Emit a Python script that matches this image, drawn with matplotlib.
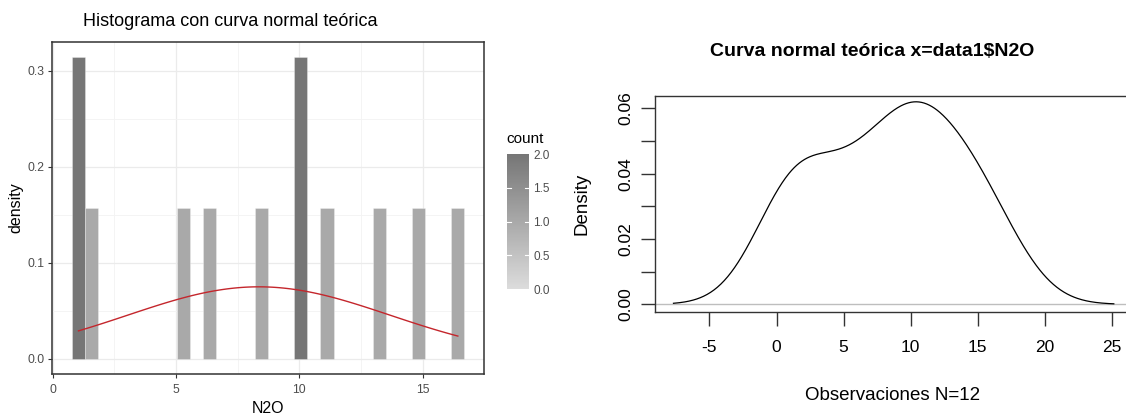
import numpy as np
import matplotlib
matplotlib.use("Agg")
import matplotlib.pyplot as plt
from matplotlib.colors import LinearSegmentedColormap, Normalize
from matplotlib.colorbar import ColorbarBase

plt.rcParams["font.family"] = ["Liberation Sans", "DejaVu Sans"]
plt.rcParams["axes.unicode_minus"] = False

# N2O observations (n = 12)
n2o = [1.05, 1.12, 1.63, 5.32, 6.38, 8.50, 10.20, 10.28, 11.30, 13.26, 14.84, 16.42]
n_bins = 30

hist_xticks = [0, 5, 10, 15]
hist_yticks = [0.0, 0.1, 0.2, 0.3]
count_ticks = [0.0, 0.5, 1.0, 1.5, 2.0]

kde_xticks = [-5, 0, 5, 10, 15, 20, 25]
kde_yticks = [0.00, 0.01, 0.02, 0.03, 0.04, 0.05, 0.06]
kde_ylabels = ["0.00", "", "0.02", "", "0.04", "", "0.06"]

x = np.asarray(n2o, dtype=float)
n = x.size

W, H = 1126, 417
fig = plt.figure(figsize=(W / 100, H / 100), dpi=100)


def px_axes(left, top, right, bottom):
    return fig.add_axes([left / W, 1 - bottom / H, (right - left) / W, (bottom - top) / H])


# ---------------- histogram with normal curve ----------------
ax1 = px_axes(52.3, 41.7, 484.0, 374.0)

width = (x.max() - x.min()) / (n_bins - 1)
edges = x.min() - width / 2 + width * np.arange(n_bins + 1)
counts, _ = np.histogram(x, bins=edges)
density = counts / (n * width)

cmap = LinearSegmentedColormap.from_list("count_grey", ["#DCDCDC", "#767676"])
norm = Normalize(vmin=0, vmax=counts.max())

mask = counts > 0
ax1.bar(edges[:-1][mask], density[mask], width=width, align="edge",
        color=cmap(norm(counts[mask])), edgecolor=(1, 1, 1, 0.35), linewidth=0.6, zorder=3)

mu, sd = x.mean(), x.std(ddof=1)
xs = np.linspace(x.min(), x.max(), 101)
ax1.plot(xs, np.exp(-0.5 * ((xs - mu) / sd) ** 2) / (sd * np.sqrt(2 * np.pi)),
         color="#C4262C", linewidth=1.0, zorder=4)

pad_x = 0.05 * (edges[-1] - edges[0])
ax1.set_xlim(edges[0] - pad_x, edges[-1] + pad_x)
ymax = density.max()
ax1.set_ylim(-0.05 * ymax, 1.05 * ymax)

ax1.set_xticks(hist_xticks)
ax1.set_xticks([2.5, 7.5, 12.5], minor=True)
ax1.set_yticks(hist_yticks)
ax1.set_yticks([0.05, 0.15, 0.25], minor=True)
ax1.set_yticklabels([f"{v:.1f}" for v in hist_yticks])
ax1.grid(which="major", color="#EBEBEB", linewidth=0.9, zorder=0)
ax1.grid(which="minor", color="#F3F3F3", linewidth=0.6, zorder=0)
ax1.set_axisbelow(True)
ax1.tick_params(which="major", length=3, width=0.8, color="#333333",
                labelsize=8.8, labelcolor="#4D4D4D", pad=2.5)
ax1.tick_params(axis="x", pad=4)
ax1.tick_params(which="minor", length=0)
for s in ax1.spines.values():
    s.set_color("#333333")
    s.set_linewidth(1.1)
ax1.set_xlabel("N2O", fontsize=11.5, labelpad=4)
ax1.set_ylabel("density", fontsize=11.5, labelpad=3)
fig.text(83 / W, 1 - 21 / H, "Histograma con curva normal teórica",
         fontsize=13, ha="left", va="center")

# count colour bar
cax = px_axes(506.7, 154.3, 529.3, 289.0)
cb = ColorbarBase(cax, cmap=cmap, norm=norm, orientation="vertical")
cb.outline.set_visible(False)
cb.set_ticks(count_ticks)
cb.set_ticklabels([f"{v:.1f}" for v in count_ticks])
cax.tick_params(length=0, labelsize=8.5, labelcolor="#4D4D4D", pad=3)
for t in count_ticks[1:-1]:
    cax.plot([0, 0.2], [t, t], color="white", linewidth=0.8, transform=cax.get_yaxis_transform())
    cax.plot([0.8, 1.0], [t, t], color="white", linewidth=0.8, transform=cax.get_yaxis_transform())
fig.text(506.7 / W, 1 - 139 / H, "count", fontsize=11, ha="left", va="center")

# ---------------- kernel density estimate ----------------
iqr = np.subtract(*np.percentile(x, [75, 25]))
bw = 0.9 * min(sd, iqr / 1.34) * n ** -0.2
grid = np.linspace(x.min() - 3 * bw, x.max() + 3 * bw, 512)
kde = np.exp(-0.5 * ((grid[:, None] - x[None, :]) / bw) ** 2).sum(axis=1) / (n * bw * np.sqrt(2 * np.pi))

ax2 = px_axes(654.5, 95.7, 1130.5, 312.3)
ax2.axhline(0, color="#BEBEBE", linewidth=1.0, zorder=1)
ax2.plot(grid, kde, color="black", linewidth=0.9, zorder=2)
ax2.set_xlim(-9.1, 26.4)
ax2.set_ylim(-0.00245, 0.0639)
ax2.set_xticks(kde_xticks)
ax2.set_yticks(kde_yticks)
ax2.set_yticklabels(kde_ylabels, rotation=90, va="center")
ax2.tick_params(length=10, width=1.0, color="#333333", labelsize=12.5, pad=5)
ax2.tick_params(axis="x", pad=10)
for s in ax2.spines.values():
    s.set_color("#333333")
    s.set_linewidth(1.0)
ax2.spines["right"].set_visible(False)
ax2.set_xlabel("Observaciones N=12", fontsize=13.5, labelpad=23)
ax2.set_ylabel("Density", fontsize=13.5, labelpad=20)
fig.text(872 / W, 1 - 52 / H, "Curva normal teórica x=data1\\$N2O",
         fontsize=14, fontweight="bold", ha="center", va="center")

fig.savefig("out.png", dpi=100)
